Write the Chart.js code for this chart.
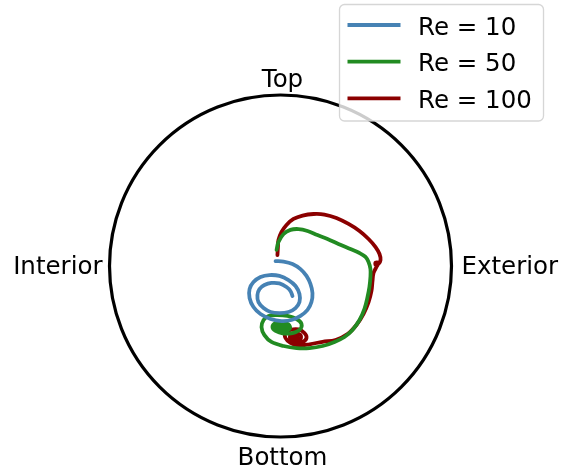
<!DOCTYPE html>
<html>
<head>
<meta charset="utf-8">
<script src="https://cdn.jsdelivr.net/npm/chart.js@4/dist/chart.umd.min.js"></script>
<style>
  html, body { margin: 0; padding: 0; background: #ffffff; }
  canvas { display: block; }
</style>
</head>
<body>
<canvas id="c" width="561" height="474"></canvas>
<script>
// Trajectories in the pipe cross-section (unit radius), x: interior -> exterior, y: bottom -> top
const seriesLabels = ['Re = 10', 'Re = 50', 'Re = 100'];
const seriesColors = ['#4682b4', '#228b22', '#8b0000'];

const re10X = [-0.029, 0.018, 0.070, 0.117, 0.152, 0.175, 0.187, 0.181, 0.158, 0.117, 0.064, 0.006, -0.058, -0.117, -0.158, -0.181, -0.181, -0.158, -0.117, -0.064, -0.006, 0.047, 0.088, 0.111, 0.111, 0.088, 0.047, -0.006, -0.058, -0.099, -0.129, -0.135, -0.123, -0.094, -0.053, -0.006, 0.035, 0.058, 0.070];
const re10Y = [0.029, 0.026, 0.012, -0.018, -0.058, -0.105, -0.158, -0.211, -0.257, -0.292, -0.316, -0.322, -0.310, -0.281, -0.240, -0.187, -0.135, -0.094, -0.064, -0.053, -0.058, -0.082, -0.117, -0.164, -0.211, -0.246, -0.269, -0.275, -0.269, -0.246, -0.211, -0.170, -0.135, -0.111, -0.099, -0.102, -0.123, -0.146, -0.175];

const re50X = [-0.023, -0.012, 0.018, 0.058, 0.105, 0.158, 0.216, 0.275, 0.339, 0.409, 0.462, 0.497, 0.515, 0.526, 0.526, 0.520, 0.509, 0.491, 0.462, 0.421, 0.374, 0.316, 0.246, 0.170, 0.094, 0.018, -0.053, -0.094, -0.111, -0.099, -0.070, -0.018, 0.041, 0.094, 0.123, 0.111, 0.070, 0.018, -0.029, -0.047, -0.029, 0.012, 0.047, 0.056, 0.029, -0.006, -0.029, -0.023, 0.012, 0.035, 0.018, -0.012, -0.006, 0.018, 0.012];
const re50Y = [0.094, 0.140, 0.187, 0.211, 0.216, 0.205, 0.181, 0.158, 0.129, 0.099, 0.076, 0.053, 0.023, -0.018, -0.064, -0.123, -0.181, -0.251, -0.316, -0.374, -0.415, -0.444, -0.468, -0.480, -0.480, -0.468, -0.444, -0.404, -0.357, -0.316, -0.292, -0.287, -0.292, -0.310, -0.339, -0.374, -0.392, -0.395, -0.380, -0.357, -0.333, -0.327, -0.342, -0.363, -0.380, -0.380, -0.365, -0.345, -0.342, -0.357, -0.371, -0.365, -0.351, -0.354, -0.365];

const re100X = [-0.018, -0.015, -0.012, 0.006, 0.035, 0.076, 0.129, 0.193, 0.257, 0.327, 0.398, 0.462, 0.515, 0.556, 0.579, 0.585, 0.573, 0.556, 0.556, 0.573, 0.561, 0.544, 0.538, 0.532, 0.515, 0.485, 0.444, 0.392, 0.322, 0.246, 0.170, 0.105, 0.058, 0.029, 0.029, 0.058, 0.105, 0.140, 0.152, 0.129, 0.088, 0.058, 0.058, 0.088, 0.117, 0.117, 0.088, 0.076, 0.094, 0.099];
const re100Y = [0.064, 0.111, 0.152, 0.199, 0.240, 0.275, 0.295, 0.304, 0.301, 0.281, 0.246, 0.205, 0.158, 0.111, 0.070, 0.035, 0.012, 0.006, 0.020, 0.018, -0.006, -0.041, -0.088, -0.146, -0.211, -0.281, -0.345, -0.398, -0.433, -0.443, -0.458, -0.465, -0.450, -0.421, -0.392, -0.374, -0.371, -0.392, -0.421, -0.444, -0.447, -0.427, -0.404, -0.392, -0.404, -0.427, -0.430, -0.415, -0.409, -0.418];

// Wall-position labels around the boundary
const wallLabels = { top: 'Top', bottom: 'Bottom', left: 'Interior', right: 'Exterior' };

const FONT = '"DejaVu Sans", sans-serif';
const FONT_SIZE = 24.5;

function toPoints(xs, ys) {
  return xs.map((x, i) => ({ x: x, y: ys[i] }));
}

const datasets = [
  { label: seriesLabels[0], data: toPoints(re10X, re10Y) },
  { label: seriesLabels[1], data: toPoints(re50X, re50Y) },
  { label: seriesLabels[2], data: toPoints(re100X, re100Y) }
].map((d, i) => Object.assign(d, {
  showLine: true,
  borderColor: seriesColors[i],
  backgroundColor: seriesColors[i],
  borderWidth: 3.8,
  pointRadius: 0,
  pointHoverRadius: 0,
  tension: 0.35,
  borderCapStyle: 'round',
  borderJoinStyle: 'round',
  clip: false
}));

// Pipe wall and the side labels
const wallPlugin = {
  id: 'wall',
  beforeDatasetsDraw(chart) {
    const { ctx, scales: { x, y } } = chart;
    const cx = x.getPixelForValue(0), cy = y.getPixelForValue(0);
    const r = x.getPixelForValue(1) - cx;
    ctx.save();
    ctx.beginPath();
    ctx.arc(cx, cy, r, 0, Math.PI * 2);
    ctx.lineWidth = 3.2;
    ctx.strokeStyle = '#000000';
    ctx.stroke();

    ctx.fillStyle = '#000000';
    ctx.font = FONT_SIZE + 'px ' + FONT;
    ctx.textBaseline = 'alphabetic';
    ctx.textAlign = 'center';
    ctx.fillText(wallLabels.top, cx + 2, y.getPixelForValue(1) - 8.5);
    ctx.fillText(wallLabels.bottom, cx + 2, y.getPixelForValue(-1) + 28);
    ctx.textAlign = 'right';
    ctx.fillText(wallLabels.left, x.getPixelForValue(-1) - 7, cy + 7.5);
    ctx.textAlign = 'left';
    ctx.fillText(wallLabels.right, x.getPixelForValue(1) + 10, cy + 7.5);
    ctx.restore();
  }
};

// Legend box in the upper right corner
const legendPlugin = {
  id: 'cornerLegend',
  afterDraw(chart) {
    const ctx = chart.ctx;
    const bx = 339.5, by = 4.5, bw = 204, bh = 116.5, rad = 5;
    ctx.save();
    ctx.beginPath();
    ctx.roundRect(bx, by, bw, bh, rad);
    ctx.fillStyle = 'rgba(255,255,255,0.8)';
    ctx.fill();
    ctx.lineWidth = 1.3;
    ctx.strokeStyle = 'rgba(204,204,204,0.8)';
    ctx.stroke();

    ctx.font = FONT_SIZE + 'px ' + FONT;
    ctx.textAlign = 'left';
    ctx.textBaseline = 'alphabetic';
    chart.data.datasets.forEach((ds, i) => {
      const rowY = 25 + i * 36.7;
      ctx.beginPath();
      ctx.moveTo(347.5, rowY);
      ctx.lineTo(400.5, rowY);
      ctx.lineWidth = 3.8;
      ctx.strokeStyle = ds.borderColor;
      ctx.stroke();
      ctx.fillStyle = '#000000';
      ctx.fillText(ds.label, 418, rowY + 9.5);
    });
    ctx.restore();
  }
};

new Chart(document.getElementById('c'), {
  type: 'scatter',
  data: { datasets: datasets },
  options: {
    responsive: false,
    animation: false,
    events: [],
    layout: { padding: { left: 109.5, right: 109.5, top: 95, bottom: 37 } },
    plugins: { legend: { display: false }, tooltip: { enabled: false } },
    scales: {
      x: { type: 'linear', min: -1, max: 1, display: false },
      y: { type: 'linear', min: -1, max: 1, display: false }
    }
  },
  plugins: [wallPlugin, legendPlugin]
});
</script>
</body>
</html>
